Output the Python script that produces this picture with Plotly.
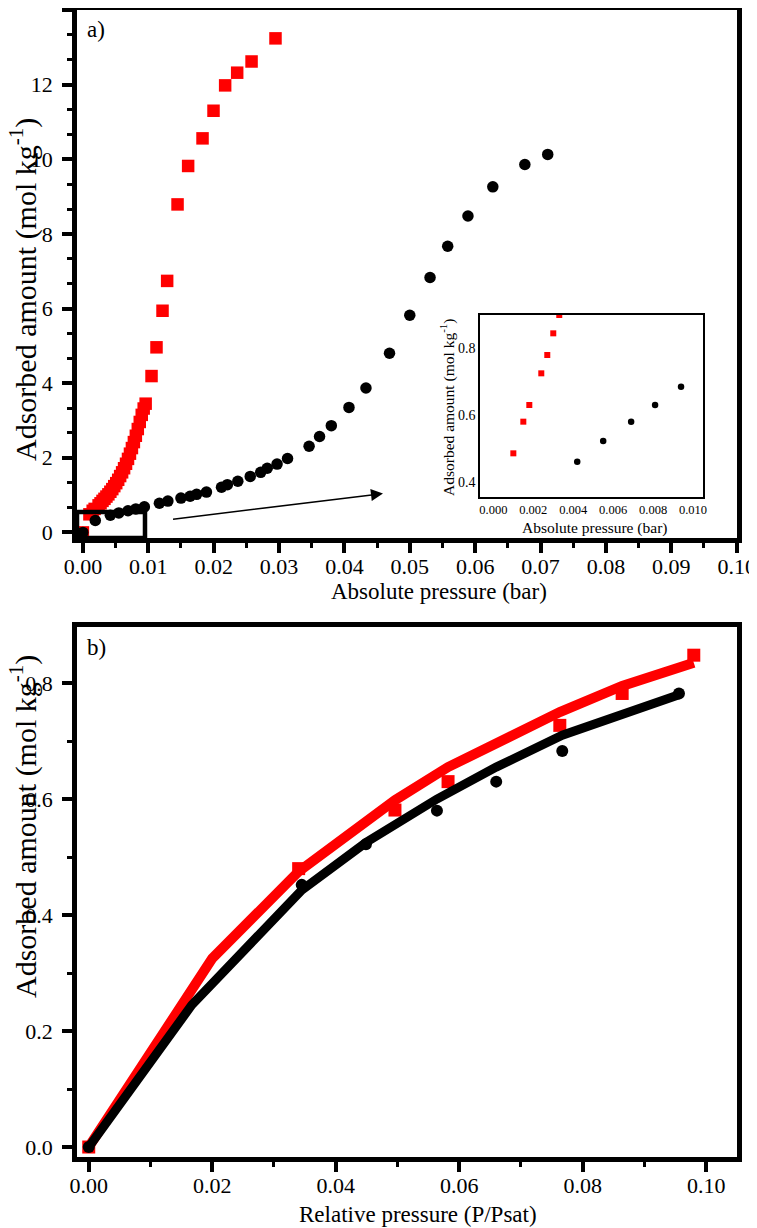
import plotly.graph_objects as go

# ---------------- data: panel a (absolute pressure, bar) ----------------
red_a_x = [0.0, 0.0010, 0.0015, 0.0018, 0.0024, 0.0027, 0.0030, 0.0033, 0.0036, 0.0039,
           0.0042, 0.0045, 0.0048, 0.0051, 0.0054, 0.0057, 0.0060, 0.0063, 0.0066, 0.0069,
           0.0072, 0.0075, 0.0078, 0.0081, 0.0084, 0.0087, 0.0090, 0.0093, 0.0096,
           0.0105, 0.01126, 0.01218, 0.01289, 0.01448, 0.0161, 0.0183, 0.01998, 0.02176,
           0.0236, 0.0258, 0.02946]
red_a_y = [0.0, 0.485, 0.58, 0.63, 0.725, 0.78, 0.845, 0.90, 0.96, 1.02,
           1.09, 1.16, 1.24, 1.32, 1.41, 1.51, 1.61, 1.72, 1.84, 1.97,
           2.11, 2.26, 2.42, 2.59, 2.77, 2.96, 3.15, 3.32, 3.45,
           4.19, 4.96, 5.94, 6.74, 8.79, 9.82, 10.56, 11.30, 11.98,
           12.32, 12.62, 13.24]

black_a_x = [0.0, 0.0019, 0.0042, 0.0055, 0.0069, 0.0081, 0.0094, 0.0117, 0.0130, 0.0150,
             0.0164, 0.0174, 0.0189, 0.0212, 0.0221, 0.0237, 0.0256, 0.0272, 0.0282, 0.0297,
             0.0313, 0.0346, 0.0362, 0.0380, 0.0407, 0.0433, 0.0469, 0.0500, 0.0531, 0.0558,
             0.0589, 0.0627, 0.0676, 0.0711]
black_a_y = [0.0, 0.32, 0.46, 0.522, 0.58, 0.63, 0.685, 0.78, 0.84, 0.92,
             0.97, 1.02, 1.08, 1.21, 1.28, 1.37, 1.50, 1.61, 1.72, 1.83,
             1.98, 2.31, 2.57, 2.86, 3.35, 3.87, 4.80, 5.82, 6.83, 7.67,
             8.48, 9.26, 9.86, 10.13]

# ---------------- data: panel b (relative pressure) ----------------
red_b_x = [0.0, 0.0340, 0.0496, 0.0582, 0.0763, 0.0864, 0.0980]
red_b_y = [0.0, 0.480, 0.581, 0.630, 0.727, 0.782, 0.848]
black_b_x = [0.0, 0.0345, 0.0449, 0.0564, 0.0660, 0.0767, 0.0956]
black_b_y = [0.0, 0.452, 0.522, 0.580, 0.630, 0.683, 0.782]

red_fit_x = [0.0, 0.0200, 0.0340, 0.0496, 0.0582, 0.0763, 0.0864, 0.0980]
red_fit_y = [0.0, 0.325, 0.475, 0.598, 0.655, 0.750, 0.795, 0.835]
black_fit_x = [0.0, 0.0167, 0.0345, 0.0449, 0.0564, 0.0660, 0.0767, 0.0956]
black_fit_y = [0.0, 0.245, 0.443, 0.525, 0.600, 0.655, 0.710, 0.780]

RED = "#ff0000"
BLACK = "#000000"
FONT = "'Liberation Serif', 'Times New Roman', serif"

# the page body adds an 8 px margin, so the figure is 8 px smaller than the window
OFF = 8
W, H = 757 - OFF, 1228 - OFF


def px(v):      # screen x -> paper fraction
    return (v - OFF) / W


def py(v):      # screen y -> paper fraction (from bottom)
    return 1 - (v - OFF) / H


fig = go.Figure()

# panel a
fig.add_trace(go.Scatter(x=red_a_x, y=red_a_y, mode="markers",
                         marker=dict(symbol="square", size=12.5, color=RED),
                         xaxis="x", yaxis="y", showlegend=False))
fig.add_trace(go.Scatter(x=black_a_x, y=black_a_y, mode="markers",
                         marker=dict(symbol="circle", size=11.5, color=BLACK),
                         xaxis="x", yaxis="y", showlegend=False))

# inset
fig.add_trace(go.Scatter(x=red_a_x, y=red_a_y, mode="markers",
                         marker=dict(symbol="square", size=6, color=RED),
                         xaxis="x3", yaxis="y3", showlegend=False))
fig.add_trace(go.Scatter(x=black_a_x, y=black_a_y, mode="markers",
                         marker=dict(symbol="circle", size=6.5, color=BLACK),
                         xaxis="x3", yaxis="y3", showlegend=False))

# panel b
fig.add_trace(go.Scatter(x=red_b_x, y=red_b_y, mode="markers",
                         marker=dict(symbol="square", size=13, color=RED),
                         xaxis="x2", yaxis="y2", showlegend=False))
fig.add_trace(go.Scatter(x=red_fit_x, y=red_fit_y, mode="lines",
                         line=dict(color=RED, width=10),
                         xaxis="x2", yaxis="y2", showlegend=False))
fig.add_trace(go.Scatter(x=black_fit_x, y=black_fit_y, mode="lines",
                         line=dict(color=BLACK, width=9),
                         xaxis="x2", yaxis="y2", showlegend=False))
fig.add_trace(go.Scatter(x=black_b_x, y=black_b_y, mode="markers",
                         marker=dict(symbol="circle", size=12, color=BLACK),
                         xaxis="x2", yaxis="y2", showlegend=False))


def main_axis(domain, rng, dtick, minor_dtick, fmt, anchor, standoff):
    return dict(domain=domain, range=rng, anchor=anchor, dtick=dtick, tick0=0,
                tickformat=fmt, showgrid=False, zeroline=False, automargin=False,
                showline=True, linecolor=BLACK, linewidth=4.5, mirror=True,
                ticks="outside", ticklen=10, tickwidth=4, tickcolor=BLACK,
                ticklabelstandoff=standoff,
                minor=dict(ticks="outside", ticklen=5, tickwidth=3, tickcolor=BLACK,
                           dtick=minor_dtick, tick0=0, showgrid=False),
                tickfont=dict(family=FONT, size=22, color=BLACK))


x_dom = [px(77), px(737)]
ya_dom = [py(538), py(10)]
yb_dom = [py(1157), py(627)]

fig.update_layout(
    width=W, height=H,
    margin=dict(l=0, r=0, t=0, b=0),
    paper_bgcolor="white", plot_bgcolor="white",
    showlegend=False,
    xaxis=main_axis(x_dom, [-0.0009, 0.10005], 0.01, 0.005, ".2f", "y", -5),
    yaxis=main_axis(ya_dom, [-0.15, 14.0], 2, 2 / 3, "d", "x", 5),
    xaxis2=main_axis(x_dom, [-0.0019, 0.105], 0.02, 0.01, ".2f", "y2", -5),
    yaxis2=main_axis(yb_dom, [-0.0172, 0.8966], 0.2, 0.1, ".1f", "x2", 5),
    xaxis3=dict(domain=[px(480), px(703)], range=[-0.00067, 0.0105], anchor="y3",
                dtick=0.002, tick0=0, tickformat=".3f", showgrid=False, zeroline=False,
                automargin=False,
                showline=True, linecolor=BLACK, linewidth=1.5, mirror=True, ticks="",
                tickfont=dict(family=FONT, size=12.5, color=BLACK)),
    yaxis3=dict(domain=[py(497), py(315)], range=[0.354, 0.9], anchor="x3",
                dtick=0.2, tick0=0, tickformat=".1f", showgrid=False, zeroline=False,
                automargin=False,
                showline=True, linecolor=BLACK, linewidth=1.5, mirror=True, ticks="",
                tickfont=dict(family=FONT, size=14, color=BLACK)),
)

ylab = "Adsorbed amount (mol kg<sup>-1</sup>)"
ann = [
    dict(text=ylab, x=px(23), y=py(290), textangle=-90, font=dict(size=30)),
    dict(text=ylab, x=px(23), y=py(827), textangle=-90, font=dict(size=30)),
    dict(text="Absolute pressure (bar)", x=px(438.5), y=py(591), font=dict(size=23)),
    dict(text="Relative pressure (P/Psat)", x=px(418), y=py(1214), font=dict(size=23)),
    dict(text=ylab, x=px(448), y=py(408), textangle=-90, font=dict(size=15.5)),
    dict(text="Absolute pressure (bar)", x=px(594), y=py(528), font=dict(size=15.5)),
    dict(text="a)", x=px(85), y=py(30), xanchor="left", font=dict(size=23)),
    dict(text="b)", x=px(85), y=py(647), xanchor="left", font=dict(size=23)),
]
for a in ann:
    a.setdefault("xanchor", "center")
    a["yanchor"] = "middle"
    a["xref"] = "paper"
    a["yref"] = "paper"
    a["showarrow"] = False
    a["font"] = dict(family=FONT, color=BLACK, size=a["font"]["size"])
    fig.add_annotation(**a)

# arrow from the zoom box to the inset
fig.add_annotation(x=0.0459, y=1.04, ax=0.01356, ay=0.35, xref="x", yref="y",
                   axref="x", ayref="y", text="", showarrow=True,
                   arrowhead=2, arrowsize=1.6, arrowwidth=1.5, arrowcolor=BLACK)

# zoom box
fig.add_shape(type="rect", xref="x", yref="y", x0=-0.0009, x1=0.0095, y0=-0.15, y1=0.55,
              line=dict(color=BLACK, width=4.5), fillcolor="rgba(0,0,0,0)")

# keep the page free of scrollbars (body margin + figure slightly exceed the window)
fig.write_html(
    "out.html",
    post_script="document.documentElement.style.overflow='hidden';"
                "document.body.style.overflow='hidden';",
)
